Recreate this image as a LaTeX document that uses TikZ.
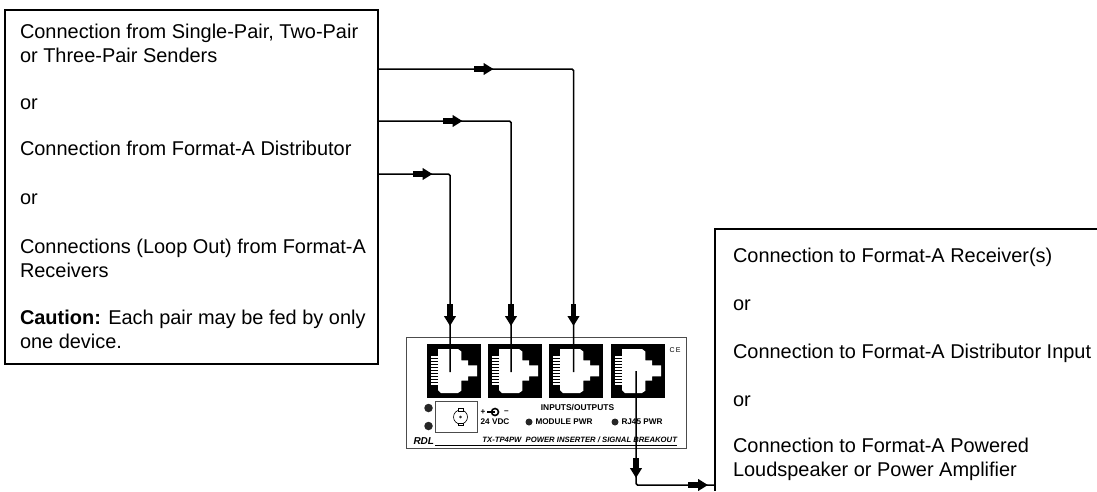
\documentclass[tikz,border=0pt]{standalone}
\usepackage{fontspec}
\setmainfont{Liberation Sans}
\usetikzlibrary{arrows.meta}
\tikzset{
  label/.style={anchor=base west, inner sep=0pt, outer sep=0pt, align=left, font=\fontsize{19.95}{24}\selectfont},
  panel/.style={inner sep=0pt, outer sep=0pt, font=\fontsize{8.2}{9}\selectfont\bfseries},
  jack/.style={fill=black, minimum size=54pt, inner sep=0pt, outer sep=0pt},
  wire/.style={line width=1.5pt, rounded corners=1.5pt},
  fat/.style={line width=5.2pt, -{Triangle[length=10pt, width=11.5pt]}, shorten >=0pt},
  led/.style={circle, fill=black!85, inner sep=0pt, outer sep=0pt}
}
\begin{document}
\begin{tikzpicture}[x=1pt, y=-1pt]
\useasboundingbox (0,0) rectangle (1097,491);

% source box
\node[draw, line width=1.4pt, minimum width=373pt, minimum height=354pt, inner sep=0pt, outer sep=0pt] (source) at (191.5,187) {};
\node[label] (sendersText) at (20,62) {Connection from Single-Pair, Two-Pair\\or Three-Pair Senders};
\node[label] (orA) at (20,109.5) {or};
\node[label] (distText) at (20,155) {Connection from Format-A Distributor};
\node[label] (orB) at (20,204) {or};
\node[label] (loopText) at (20,277) {Connections (Loop Out) from Format-A\\Receivers};
\node[label] (cautionText) at (20,348) {\textbf{Caution:} Each pair may be fed by only\\one device.};

% load box, runs off the page
\coordinate (loadNE) at (1097,229);
\coordinate (loadNW) at (715,229);
\coordinate (loadSW) at (715,491);
\draw[line width=1.4pt] (loadNE) -- (loadNW) -- (loadSW);
\node[label] (recvText) at (733,262.5) {Connection to Format-A Receiver(s)};
\node[label] (orC) at (733,310.5) {or};
\node[label] (distInText) at (733,358.5) {Connection to Format-A Distributor Input};
\node[label] (orD) at (733,406.5) {or};
\node[label] (ampText) at (733,476.5) {Connection to Format-A Powered\\Loudspeaker or Power Amplifier};

% breakout panel
\node[draw=black!70, line width=1pt, minimum width=280pt, minimum height=111pt, inner sep=0pt, outer sep=0pt] (breakout) at (546,392.5) {};
\foreach \name/\xpos in {jackA/454, jackB/515, jackC/576, jackD/638} {
  \node[jack] (\name) at (\xpos,371) {};
  \begin{scope}[shift={(\name.north west)}]
    \fill[white] (11,5) -- (31,5) -- (34.3,7.5) -- (34.3,16.3) -- (41,16.3) -- (41,21.3) -- (50,21.3) -- (50,32.3) -- (41,32.3) -- (41,36.7) -- (34.3,36.7) -- (34.3,46.7) -- (31,49) -- (14,49) -- (11,46) -- cycle;
    \foreach \k in {0,...,9}
      \fill[white] (3.7,12.4+\k*3) rectangle (11.5,14+\k*3);
  \end{scope}
}
\node[panel, font=\fontsize{7}{7}\selectfont] (ceMark) at (675,350) {C\,E};

\node[led, minimum size=8.5pt] (ledA) at (428.5,408) {};
\node[led, minimum size=8.5pt] (ledB) at (428.5,426) {};
\node[draw=black!70, line width=0.8pt, minimum width=42pt, minimum height=31.5pt, inner sep=0pt, outer sep=0pt] (bncPlate) at (456,416.7) {};
\draw[line width=0.6pt] (460.5,417) circle (7pt);
\fill[white, draw=black, line width=0.5pt] (458,408.5) rectangle (463,411);
\fill[white, draw=black, line width=0.5pt] (458,423) rectangle (463,425.5);
\draw[line width=0.6pt, fill=white] (460.5,417) circle (1pt);

\node[panel] (plusSign) at (483,412) {+};
\node[panel] (minusSign) at (506.5,412) {--};
\draw[line width=1.6pt] (495,412) circle (3.5pt);
\draw[line width=1.4pt] (487,412) -- (495,412);
\node[panel] (vdcText) at (495,422) {24 VDC};
\node[panel, font=\fontsize{8.4}{9}\selectfont\bfseries] (ioText) at (577.5,408) {INPUTS/OUTPUTS};
\node[led, minimum size=7pt] (ledModule) at (529,422) {};
\node[panel, anchor=west] (moduleText) at (535.5,422) {MODULE PWR};
\node[led, minimum size=7pt] (ledRj) at (615,422) {};
\node[panel, anchor=west] (rjText) at (621.5,422) {RJ45 PWR};
\node[panel, font=\fontsize{10}{10}\selectfont\bfseries\itshape, anchor=west] (rdlText) at (413.5,441) {RDL};
\node[panel, font=\fontsize{7.7}{8}\selectfont\bfseries\itshape, anchor=east] (modelText) at (677,440) {TX-TP4PW\ \ POWER INSERTER / SIGNAL BREAKOUT};
\draw[line width=0.7pt] (435,445) -- (677,445);

% connectors
\coordinate (srcA) at (378,69);
\coordinate (srcB) at (378,121);
\coordinate (srcC) at (378,174);
\coordinate (inA) at (450,372);
\coordinate (inB) at (511,372);
\coordinate (inC) at (573.5,372);
\coordinate (outD) at (636,371);
\coordinate (outE) at (715,485);
\draw[wire] (srcA) -| (inC);
\draw[wire] (srcB) -| (inB);
\draw[wire] (srcC) -| (inA);
\draw[wire] (outD) |- (outE);

% arrows on the wires
\draw[fat] (474,69) -- (493.5,69);
\draw[fat] (443,121) -- (462.5,121);
\draw[fat] (413,174) -- (432.5,174);
\draw[fat] (450,304) -- (450,326);
\draw[fat] (511,304) -- (511,326);
\draw[fat] (573.5,304) -- (573.5,326);
\draw[fat] (636,458) -- (636,478);
\draw[fat] (688,485) -- (708,485);
\end{tikzpicture}
\end{document}
